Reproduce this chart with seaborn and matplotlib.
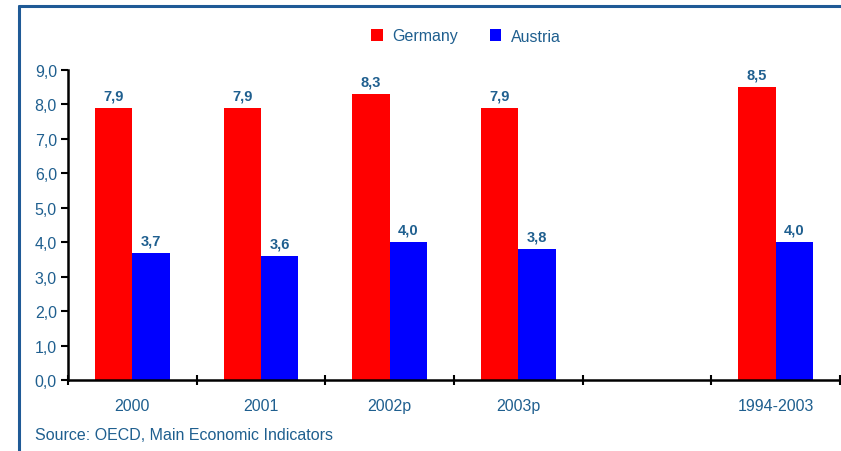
import matplotlib
matplotlib.use("Agg")
import matplotlib.pyplot as plt
from matplotlib.lines import Line2D
from matplotlib.patches import Patch
from matplotlib.ticker import FuncFormatter, FixedLocator
import pandas as pd
import seaborn as sns

categories = ["2000", "2001", "2002p", "2003p", "1994-2003"]
slot_order = ["2000", "2001", "2002p", "2003p", " ", "1994-2003"]
germany = [7.9, 7.9, 8.3, 7.9, 8.5]
austria = [3.7, 3.6, 4.0, 3.8, 4.0]
series = ["Germany", "Austria"]
colors = {"Germany": "#FF0000", "Austria": "#0000FF"}

text_blue = "#1F5F8F"
frame_blue = "#1F5A96"

df = pd.DataFrame({
    "period": categories * 2,
    "value": germany + austria,
    "country": [series[0]] * len(categories) + [series[1]] * len(categories),
})

sns.set_theme(style="white")
plt.rcParams["font.family"] = ["Liberation Sans", "DejaVu Sans"]

fig = plt.figure(figsize=(8.41, 4.52), dpi=100)
ax = fig.add_axes([68 / 841, 1 - 381 / 452, 1 - 68 / 841 - 1 / 841, (381 - 71) / 452])

sns.barplot(data=df, x="period", y="value", hue="country", order=slot_order,
            hue_order=series, palette=colors, width=0.58, errorbar=None,
            saturation=1, linewidth=0, ax=ax, legend=False)

comma = lambda v: f"{v:.1f}".replace(".", ",")
for cont in ax.containers:
    ax.bar_label(cont, fmt=comma, padding=4, color=text_blue,
                 fontsize=10.5, fontweight="bold")

ax.set_ylim(0, 9)
ax.set_xlim(-0.5, len(slot_order) - 0.5)
ax.set_yticks([i for i in range(10)])
ax.yaxis.set_major_formatter(FuncFormatter(lambda v, p: comma(v)))
ax.xaxis.set_minor_locator(FixedLocator([i - 0.5 for i in range(len(slot_order) + 1)]))
ax.tick_params(axis="x", which="major", length=0, pad=13, labelsize=11.5, labelcolor=text_blue)
ax.tick_params(axis="x", which="minor", length=7, width=1.5, direction="inout",
               color="black", bottom=True)
ax.tick_params(axis="y", which="major", length=5, width=1.5, direction="out",
               color="black", left=True, labelsize=11.5, labelcolor=text_blue, pad=3)
ax.set_xlabel("")
ax.set_ylabel("")

for side in ("top", "right"):
    ax.spines[side].set_visible(False)
for side in ("left", "bottom"):
    ax.spines[side].set_color("black")
    ax.spines[side].set_linewidth(1.8)

handles = [Patch(facecolor=colors[s], edgecolor="none", label=s) for s in series]
fig.legend(handles=handles, loc="center", bbox_to_anchor=(466 / 841, 1 - 37 / 452),
           ncol=2, frameon=False, fontsize=11.5, handlelength=0.7, handleheight=0.7,
           handletextpad=0.6, columnspacing=2.0, labelcolor=text_blue)

fig.text(35 / 841, 1 - 436 / 452, "Source: OECD, Main Economic Indicators",
         color=text_blue, fontsize=11.5, va="center", ha="left")

# frame lines along the top and left edge of the figure
fig.add_artist(Line2D([19 / 841, 1], [1 - 7 / 452, 1 - 7 / 452], color=frame_blue,
                      lw=2.2, transform=fig.transFigure))
fig.add_artist(Line2D([19 / 841, 19 / 841], [0, 1 - 7 / 452], color=frame_blue,
                      lw=2.2, transform=fig.transFigure))

fig.savefig("out.png", dpi=100)
